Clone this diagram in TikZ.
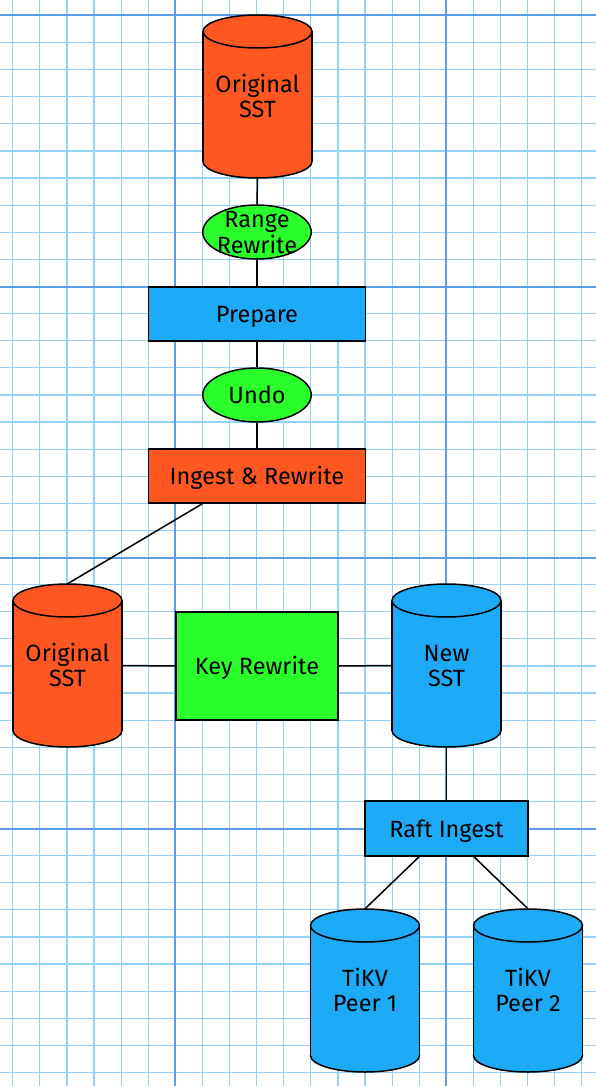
\documentclass[tikz,border=0pt]{standalone}
\usepackage{fontspec}
\setmainfont{Fira Sans}
\usetikzlibrary{shapes.geometric,calc}
\definecolor{cOrange}{HTML}{FF5722}
\definecolor{cGreen}{HTML}{2BFF2B}
\definecolor{cBlue}{HTML}{1DABF8}
\definecolor{gMinor}{HTML}{94D1F8}
\definecolor{gMajor}{HTML}{5C9DEA}
\lineskiplimit=-100pt\relax
\newcommand\mystrut{\rule[-6pt]{0pt}{29pt}}
\newcommand\mycyl[5]{%
  \filldraw[fill=#4, line width=1.5] (#2,#3+65) ellipse [x radius=54.5, y radius=16.5];
  \fill[#4] (#2-54.5,#3-65) rectangle (#2+54.5,#3+65);
  \draw[line width=1.5] (#2-54.5,#3-65) -- (#2-54.5,#3+65) (#2+54.5,#3-65) -- (#2+54.5,#3+65);
  \filldraw[fill=#4, line width=1.5] (#2,#3-65) ellipse [x radius=54.5, y radius=16.5];
  \node[txt, minimum width=109, minimum height=163] (#1) at (#2,#3) {#5};
}
\begin{document}
\begin{tikzpicture}[x=1pt,y=-1pt,
  txt/.style={font=\fontsize{23.5}{25.7}\selectfont, align=center, inner sep=0pt},
  boxnode/.style={txt, draw, line width=1.5, rectangle},
  ellnode/.style={draw, line width=1.5, ellipse, fill=cGreen, inner sep=0pt, minimum width=108.5, minimum height=54},
  conn/.style={line width=1.5, draw=black}]
\useasboundingbox (0,0) rectangle (596,1086);
\fill[white] (0,0) rectangle (596,1086);
% grid
\foreach \k in {0,...,21} \draw[gMinor, line width=1.2] ({12.7+27.1*\k},0) -- ({12.7+27.1*\k},1086);
\foreach \k in {0,...,39} \draw[gMinor, line width=1.2] (0,{15.5+27.1*\k}) -- (596,{15.5+27.1*\k});
\foreach \k in {6,16} \draw[gMajor, line width=2] ({12.7+27.1*\k},0) -- ({12.7+27.1*\k},1086);
\foreach \k in {0,10,20,30} \draw[gMajor, line width=2] (0,{15.5+27.1*\k}) -- (596,{15.5+27.1*\k});
% nodes
\mycyl{sst1}{257.5}{96.5}{cOrange}{\mystrut Original\\ \mystrut SST}
\node[ellnode] (rr) at (257,232) {};
\node[txt] (rrt) at (rr.center) {\mystrut Range\\ \mystrut Rewrite};
\node[boxnode, fill=cBlue, minimum width=217, minimum height=54] (prep) at (257,314) {\mystrut Prepare};
\node[ellnode] (undo) at (257,395) {};
\node[txt] (undot) at (undo.center) {\mystrut Undo};
\node[boxnode, fill=cOrange, minimum width=217, minimum height=54] (ing) at (257,476) {\mystrut Ingest \& Rewrite};
\mycyl{sst2}{67.5}{665.5}{cOrange}{\mystrut Original\\ \mystrut SST}
\node[boxnode, fill=cGreen, minimum width=162, minimum height=108] (key) at (257,666) {\mystrut Key Rewrite};
\mycyl{new}{446.5}{665.5}{cBlue}{\mystrut New\\ \mystrut SST}
\node[boxnode, fill=cBlue, minimum width=163, minimum height=55] (raft) at (446.5,828.5) {\mystrut Raft Ingest};
\mycyl{p1}{365}{990.5}{cBlue}{\mystrut TiKV\\ \mystrut Peer 1}
\mycyl{p2}{528}{990.5}{cBlue}{\mystrut TiKV\\ \mystrut Peer 2}
% connectors
\draw[conn] (sst1.south) -- (rr.north);
\draw[conn] (rr.south) -- (prep.north);
\draw[conn] (prep.south) -- (undo.north);
\draw[conn] (undo.south) -- (ing.north);
\draw[conn] ($(ing.south west)!0.25!(ing.south east)$) -- (sst2.north);
\draw[conn] (sst2.east) -- (key.west);
\draw[conn] (key.east) -- (new.west);
\draw[conn] (new.south) -- (raft.north);
\draw[conn] ($(raft.south west)!0.3333!(raft.south east)$) -- (p1.north);
\draw[conn] ($(raft.south west)!0.6667!(raft.south east)$) -- (p2.north);
\end{tikzpicture}
\end{document}
